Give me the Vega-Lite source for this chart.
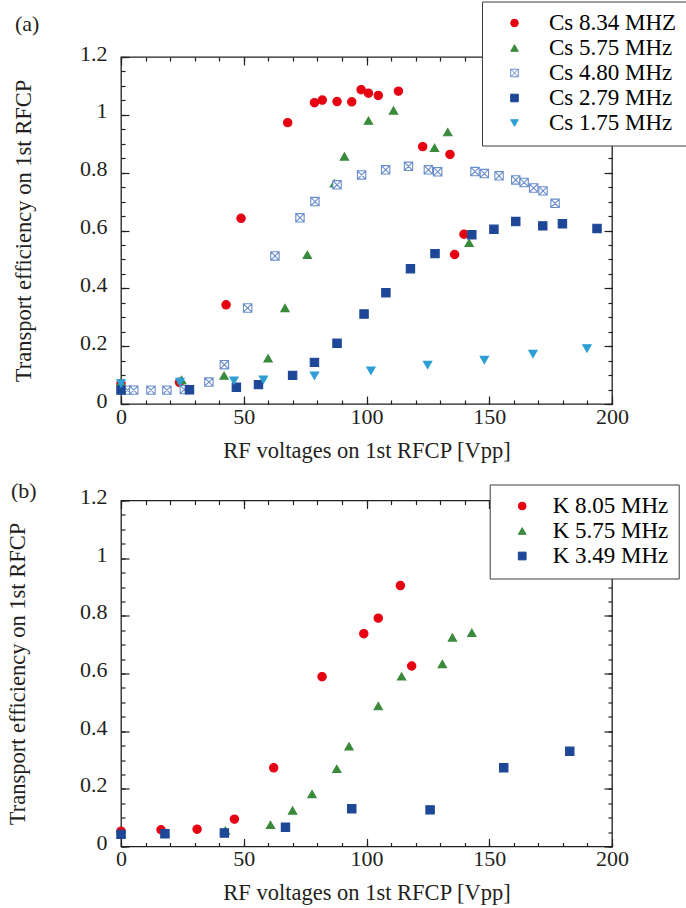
{
  "$schema": "https://vega.github.io/schema/vega-lite/v6.json",
  "background": "white",
  "padding": {"left": 5, "top": 0, "right": 4, "bottom": 4},
  "spacing": 15.5,
  "align": "none",
  "config": {
    "font": "Liberation Serif",
    "view": {"stroke": "#231f20", "strokeWidth": 1.3},
    "axis": {"grid": false, "domain": false, "labelFont": "Liberation Serif", "labelFontSize": 22, "labelColor": "#231f20", "titleFont": "Liberation Serif", "titleFontSize": 22.5, "titleFontWeight": "normal", "titleColor": "#231f20", "tickColor": "#231f20", "tickWidth": 1.2, "labelFlush": false, "labelOverlap": false},
    "legend": {"labelFont": "Liberation Serif", "labelFontSize": 23, "padding": 10, "fillColor": "white", "strokeColor": "#3c3c3c", "symbolOffset": 11, "labelOffset": 23, "rowPadding": 1, "symbolStrokeWidth": 1, "labelLimit": 400}
  },
  "resolve": {"scale": {"x": "independent", "y": "independent", "shape": "independent", "fill": "independent", "stroke": "independent"}, "legend": {"shape": "independent", "fill": "independent", "stroke": "independent"}},
  "vconcat": [
    {
      "width": 491,
      "height": 347,
      "title": {"text": "(a)", "anchor": "start", "frame": "group", "dx": -106, "offset": -51.5, "baseline": "alphabetic", "fontSize": 22, "font": "Liberation Serif", "fontWeight": "normal", "color": "#231f20"},
      "data": {"values": [
        {"s": "Cs 8.34 MHZ", "v": 0, "e": 0.071},
        {"s": "Cs 8.34 MHZ", "v": 23.8, "e": 0.075},
        {"s": "Cs 8.34 MHZ", "v": 42.8, "e": 0.343},
        {"s": "Cs 8.34 MHZ", "v": 48.9, "e": 0.642},
        {"s": "Cs 8.34 MHZ", "v": 67.9, "e": 0.973},
        {"s": "Cs 8.34 MHZ", "v": 78.8, "e": 1.042},
        {"s": "Cs 8.34 MHZ", "v": 82.0, "e": 1.051},
        {"s": "Cs 8.34 MHZ", "v": 88.0, "e": 1.046},
        {"s": "Cs 8.34 MHZ", "v": 94.0, "e": 1.045},
        {"s": "Cs 8.34 MHZ", "v": 97.8, "e": 1.087},
        {"s": "Cs 8.34 MHZ", "v": 100.8, "e": 1.075},
        {"s": "Cs 8.34 MHZ", "v": 104.8, "e": 1.067},
        {"s": "Cs 8.34 MHZ", "v": 113.0, "e": 1.082},
        {"s": "Cs 8.34 MHZ", "v": 122.9, "e": 0.890},
        {"s": "Cs 8.34 MHZ", "v": 134.0, "e": 0.863},
        {"s": "Cs 8.34 MHZ", "v": 135.9, "e": 0.517},
        {"s": "Cs 8.34 MHZ", "v": 139.7, "e": 0.587},
        {"s": "Cs 5.75 MHz", "v": 0, "e": 0.075},
        {"s": "Cs 5.75 MHz", "v": 24.7, "e": 0.083},
        {"s": "Cs 5.75 MHz", "v": 42.0, "e": 0.098},
        {"s": "Cs 5.75 MHz", "v": 59.9, "e": 0.158},
        {"s": "Cs 5.75 MHz", "v": 66.8, "e": 0.332},
        {"s": "Cs 5.75 MHz", "v": 75.9, "e": 0.516},
        {"s": "Cs 5.75 MHz", "v": 86.9, "e": 0.763},
        {"s": "Cs 5.75 MHz", "v": 91.0, "e": 0.856},
        {"s": "Cs 5.75 MHz", "v": 100.8, "e": 0.980},
        {"s": "Cs 5.75 MHz", "v": 111.0, "e": 1.015},
        {"s": "Cs 5.75 MHz", "v": 127.7, "e": 0.886},
        {"s": "Cs 5.75 MHz", "v": 133.1, "e": 0.940},
        {"s": "Cs 5.75 MHz", "v": 141.8, "e": 0.557},
        {"s": "Cs 4.80 MHz", "v": 2.7, "e": 0.048},
        {"s": "Cs 4.80 MHz", "v": 5.2, "e": 0.048},
        {"s": "Cs 4.80 MHz", "v": 12.2, "e": 0.048},
        {"s": "Cs 4.80 MHz", "v": 18.7, "e": 0.048},
        {"s": "Cs 4.80 MHz", "v": 25.8, "e": 0.050},
        {"s": "Cs 4.80 MHz", "v": 35.8, "e": 0.076},
        {"s": "Cs 4.80 MHz", "v": 42.1, "e": 0.136},
        {"s": "Cs 4.80 MHz", "v": 51.6, "e": 0.332},
        {"s": "Cs 4.80 MHz", "v": 62.7, "e": 0.512},
        {"s": "Cs 4.80 MHz", "v": 72.9, "e": 0.644},
        {"s": "Cs 4.80 MHz", "v": 79.0, "e": 0.700},
        {"s": "Cs 4.80 MHz", "v": 88.0, "e": 0.758},
        {"s": "Cs 4.80 MHz", "v": 98.0, "e": 0.792},
        {"s": "Cs 4.80 MHz", "v": 107.8, "e": 0.810},
        {"s": "Cs 4.80 MHz", "v": 117.1, "e": 0.822},
        {"s": "Cs 4.80 MHz", "v": 125.2, "e": 0.810},
        {"s": "Cs 4.80 MHz", "v": 129.0, "e": 0.803},
        {"s": "Cs 4.80 MHz", "v": 144.2, "e": 0.804},
        {"s": "Cs 4.80 MHz", "v": 148.0, "e": 0.797},
        {"s": "Cs 4.80 MHz", "v": 154.0, "e": 0.789},
        {"s": "Cs 4.80 MHz", "v": 160.8, "e": 0.775},
        {"s": "Cs 4.80 MHz", "v": 164.2, "e": 0.766},
        {"s": "Cs 4.80 MHz", "v": 168.1, "e": 0.747},
        {"s": "Cs 4.80 MHz", "v": 171.9, "e": 0.737},
        {"s": "Cs 4.80 MHz", "v": 176.8, "e": 0.694},
        {"s": "Cs 2.79 MHz", "v": 0, "e": 0.048},
        {"s": "Cs 2.79 MHz", "v": 27.9, "e": 0.049},
        {"s": "Cs 2.79 MHz", "v": 47.0, "e": 0.058},
        {"s": "Cs 2.79 MHz", "v": 56.0, "e": 0.067},
        {"s": "Cs 2.79 MHz", "v": 69.9, "e": 0.099},
        {"s": "Cs 2.79 MHz", "v": 78.8, "e": 0.144},
        {"s": "Cs 2.79 MHz", "v": 88.0, "e": 0.210},
        {"s": "Cs 2.79 MHz", "v": 99.0, "e": 0.311},
        {"s": "Cs 2.79 MHz", "v": 107.9, "e": 0.385},
        {"s": "Cs 2.79 MHz", "v": 117.9, "e": 0.468},
        {"s": "Cs 2.79 MHz", "v": 127.9, "e": 0.520},
        {"s": "Cs 2.79 MHz", "v": 142.9, "e": 0.585},
        {"s": "Cs 2.79 MHz", "v": 151.9, "e": 0.604},
        {"s": "Cs 2.79 MHz", "v": 160.8, "e": 0.631},
        {"s": "Cs 2.79 MHz", "v": 171.8, "e": 0.616},
        {"s": "Cs 2.79 MHz", "v": 179.8, "e": 0.623},
        {"s": "Cs 2.79 MHz", "v": 193.9, "e": 0.607},
        {"s": "Cs 1.75 MHz", "v": 0, "e": 0.071},
        {"s": "Cs 1.75 MHz", "v": 24.0, "e": 0.076},
        {"s": "Cs 1.75 MHz", "v": 46.0, "e": 0.081},
        {"s": "Cs 1.75 MHz", "v": 58.0, "e": 0.084},
        {"s": "Cs 1.75 MHz", "v": 78.8, "e": 0.098},
        {"s": "Cs 1.75 MHz", "v": 101.8, "e": 0.115},
        {"s": "Cs 1.75 MHz", "v": 124.9, "e": 0.135},
        {"s": "Cs 1.75 MHz", "v": 148.0, "e": 0.152},
        {"s": "Cs 1.75 MHz", "v": 167.8, "e": 0.173},
        {"s": "Cs 1.75 MHz", "v": 189.8, "e": 0.192}
      ]},
      "layer": [
        {
          "mark": {"type": "point", "filled": true, "opacity": 1, "size": 70, "strokeWidth": 1.1},
          "encoding": {
            "x": {"field": "v", "type": "quantitative", "scale": {"domain": [0, 200], "nice": false}, "axis": {"orient": "bottom", "values": [0, 50, 100, 150, 200], "ticks": false, "labelPadding": 2, "title": "RF voltages on 1st RFCP [Vpp]", "titlePadding": 12}},
            "y": {"field": "e", "type": "quantitative", "scale": {"domain": [0, 1.2], "nice": false, "zero": false}, "axis": {"orient": "left", "values": [0, 0.2, 0.4, 0.6, 0.8, 1, 1.2], "format": "~g", "ticks": false, "labelPadding": 14, "labelOffset": -4, "labelBaseline": "middle", "title": "Transport efficiency on 1st RFCP", "titlePadding": 44}},
            "shape": {"field": "s", "type": "nominal", "scale": {"domain": ["Cs 8.34 MHZ", "Cs 5.75 MHz", "Cs 4.80 MHz", "Cs 2.79 MHz", "Cs 1.75 MHz"], "range": ["circle", "triangle-up", "M-1,-1L1,-1L1,1L-1,1Z M-1,-1L1,1 M1,-1L-1,1", "square", "triangle-down"]},
              "legend": {"title": null, "orient": "none", "legendX": 361, "legendY": -55.5, "symbolSize": 58, "rowPadding": 1, "encode": {"legend": {"update": {"strokeWidth": {"value": 1.5}}}, "labels": {"update": {"fill": {"signal": "datum.value==='Cs 8.34 MHZ'?'#e8101e':datum.value==='Cs 5.75 MHz'?'#3d8b3d':datum.value==='Cs 4.80 MHz'?'#6b8dcb':datum.value==='Cs 2.79 MHz'?'#1f4a93':'#35a3d3'"}}}}}},
            "fill": {"field": "s", "type": "nominal", "scale": {"domain": ["Cs 8.34 MHZ", "Cs 5.75 MHz", "Cs 4.80 MHz", "Cs 2.79 MHz", "Cs 1.75 MHz"], "range": ["#e60012", "#3a8a3c", "#ffffff", "#1e4797", "#2e9fd4"]},
              "legend": {"title": null, "orient": "none", "legendX": 361, "legendY": -55.5, "symbolSize": 58, "rowPadding": 1, "encode": {"legend": {"update": {"strokeWidth": {"value": 1.5}}}, "labels": {"update": {"fill": {"signal": "datum.value==='Cs 8.34 MHZ'?'#e8101e':datum.value==='Cs 5.75 MHz'?'#3d8b3d':datum.value==='Cs 4.80 MHz'?'#6b8dcb':datum.value==='Cs 2.79 MHz'?'#1f4a93':'#35a3d3'"}}}}}},
            "stroke": {"field": "s", "type": "nominal", "scale": {"domain": ["Cs 8.34 MHZ", "Cs 5.75 MHz", "Cs 4.80 MHz", "Cs 2.79 MHz", "Cs 1.75 MHz"], "range": ["#e60012", "#3a8a3c", "#6a8dcc", "#1e4797", "#2e9fd4"]},
              "legend": {"title": null, "orient": "none", "legendX": 361, "legendY": -55.5, "symbolSize": 58, "rowPadding": 1, "encode": {"legend": {"update": {"strokeWidth": {"value": 1.5}}}, "labels": {"update": {"fill": {"signal": "datum.value==='Cs 8.34 MHZ'?'#e8101e':datum.value==='Cs 5.75 MHz'?'#3d8b3d':datum.value==='Cs 4.80 MHz'?'#6b8dcb':datum.value==='Cs 2.79 MHz'?'#1f4a93':'#35a3d3'"}}}}}}
          }
        },
        {
          "mark": {"type": "point", "opacity": 0},
          "encoding": {
            "x": {"field": "v", "type": "quantitative", "axis": {"orient": "bottom", "values": [0, 10, 20, 30, 40, 50, 60, 70, 80, 90, 100, 110, 120, 130, 140, 150, 160, 170, 180, 190, 200], "tickSize": -4, "labels": false, "title": null}},
            "y": {"field": "e", "type": "quantitative", "axis": {"orient": "left", "values": [0, 0.05, 0.1, 0.15, 0.2, 0.25, 0.3, 0.35, 0.4, 0.45, 0.5, 0.55, 0.6, 0.65, 0.7, 0.75, 0.8, 0.85, 0.9, 0.95, 1, 1.05, 1.1, 1.15, 1.2], "tickSize": -4, "labels": false, "title": null}}
          }
        },
        {
          "mark": {"type": "point", "opacity": 0},
          "encoding": {
            "x": {"field": "v", "type": "quantitative", "axis": {"orient": "bottom", "values": [0, 50, 100, 150, 200], "tickSize": -8, "labels": false, "title": null}},
            "y": {"field": "e", "type": "quantitative", "axis": {"orient": "left", "values": [0, 0.2, 0.4, 0.6, 0.8, 1, 1.2], "tickSize": -8, "labels": false, "title": null}}
          }
        },
        {
          "mark": {"type": "point", "opacity": 0},
          "encoding": {
            "x": {"field": "v", "type": "quantitative", "axis": {"orient": "top", "values": [0, 10, 20, 30, 40, 50, 60, 70, 80, 90, 100, 110, 120, 130, 140, 150, 160, 170, 180, 190, 200], "tickSize": -4, "labels": false, "title": null}},
            "y": {"field": "e", "type": "quantitative", "axis": {"orient": "right", "values": [0, 0.05, 0.1, 0.15, 0.2, 0.25, 0.3, 0.35, 0.4, 0.45, 0.5, 0.55, 0.6, 0.65, 0.7, 0.75, 0.8, 0.85, 0.9, 0.95, 1, 1.05, 1.1, 1.15, 1.2], "tickSize": -4, "labels": false, "title": null}}
          }
        },
        {
          "mark": {"type": "point", "opacity": 0},
          "encoding": {
            "x": {"field": "v", "type": "quantitative", "axis": {"orient": "top", "values": [0, 50, 100, 150, 200], "tickSize": -8, "labels": false, "title": null}},
            "y": {"field": "e", "type": "quantitative", "axis": {"orient": "right", "values": [0, 0.2, 0.4, 0.6, 0.8, 1, 1.2], "tickSize": -8, "labels": false, "title": null}}
          }
        }
      ],
      "resolve": {"axis": {"x": "independent", "y": "independent"}}
    },
    {
      "width": 491,
      "height": 346,
      "title": {"text": "(b)", "anchor": "start", "frame": "group", "dx": -110, "offset": -35.5, "baseline": "alphabetic", "fontSize": 22, "font": "Liberation Serif", "fontWeight": "normal", "color": "#231f20"},
      "data": {"values": [
        {"s": "K 8.05 MHz", "v": 0, "e": 0.053},
        {"s": "K 8.05 MHz", "v": 16.3, "e": 0.058},
        {"s": "K 8.05 MHz", "v": 31.0, "e": 0.060},
        {"s": "K 8.05 MHz", "v": 46.2, "e": 0.095},
        {"s": "K 8.05 MHz", "v": 62.2, "e": 0.273},
        {"s": "K 8.05 MHz", "v": 81.9, "e": 0.589},
        {"s": "K 8.05 MHz", "v": 98.9, "e": 0.738},
        {"s": "K 8.05 MHz", "v": 104.8, "e": 0.792},
        {"s": "K 8.05 MHz", "v": 113.8, "e": 0.905},
        {"s": "K 8.05 MHz", "v": 118.4, "e": 0.626},
        {"s": "K 5.75 MHz", "v": 42.5, "e": 0.055},
        {"s": "K 5.75 MHz", "v": 60.9, "e": 0.075},
        {"s": "K 5.75 MHz", "v": 69.9, "e": 0.125},
        {"s": "K 5.75 MHz", "v": 77.8, "e": 0.182},
        {"s": "K 5.75 MHz", "v": 87.9, "e": 0.269},
        {"s": "K 5.75 MHz", "v": 92.9, "e": 0.347},
        {"s": "K 5.75 MHz", "v": 104.8, "e": 0.487},
        {"s": "K 5.75 MHz", "v": 114.3, "e": 0.590},
        {"s": "K 5.75 MHz", "v": 130.9, "e": 0.633},
        {"s": "K 5.75 MHz", "v": 135.0, "e": 0.725},
        {"s": "K 5.75 MHz", "v": 142.9, "e": 0.741},
        {"s": "K 3.49 MHz", "v": 0, "e": 0.042},
        {"s": "K 3.49 MHz", "v": 17.9, "e": 0.044},
        {"s": "K 3.49 MHz", "v": 42.1, "e": 0.047},
        {"s": "K 3.49 MHz", "v": 67.0, "e": 0.067},
        {"s": "K 3.49 MHz", "v": 94.0, "e": 0.131},
        {"s": "K 3.49 MHz", "v": 125.9, "e": 0.127},
        {"s": "K 3.49 MHz", "v": 155.9, "e": 0.273},
        {"s": "K 3.49 MHz", "v": 182.8, "e": 0.330}
      ]},
      "layer": [
        {
          "mark": {"type": "point", "filled": true, "opacity": 1, "size": 70, "strokeWidth": 1.1},
          "encoding": {
            "x": {"field": "v", "type": "quantitative", "scale": {"domain": [0, 200], "nice": false}, "axis": {"orient": "bottom", "values": [0, 50, 100, 150, 200], "ticks": false, "labelPadding": 2, "title": "RF voltages on 1st RFCP [Vpp]", "titlePadding": 12}},
            "y": {"field": "e", "type": "quantitative", "scale": {"domain": [0, 1.2], "nice": false, "zero": false}, "axis": {"orient": "left", "values": [0, 0.2, 0.4, 0.6, 0.8, 1, 1.2], "format": "~g", "ticks": false, "labelPadding": 14, "labelOffset": -4, "labelBaseline": "middle", "title": "Transport efficiency on 1st RFCP", "titlePadding": 50}},
            "shape": {"field": "s", "type": "nominal", "scale": {"domain": ["K 8.05 MHz", "K 5.75 MHz", "K 3.49 MHz"], "range": ["circle", "triangle-up", "square"]},
              "legend": {"title": null, "orient": "none", "legendX": 368.7, "legendY": -16, "symbolSize": 60, "rowPadding": 1, "labelOffset": 19, "encode": {"legend": {"update": {"strokeWidth": {"value": 1.5}}}, "labels": {"update": {"fill": {"signal": "datum.value==='K 8.05 MHz'?'#e8101e':datum.value==='K 5.75 MHz'?'#3d8b3d':'#1f4a93'"}}}}}},
            "fill": {"field": "s", "type": "nominal", "scale": {"domain": ["K 8.05 MHz", "K 5.75 MHz", "K 3.49 MHz"], "range": ["#e60012", "#3a8a3c", "#1e4797"]},
              "legend": {"title": null, "orient": "none", "legendX": 368.7, "legendY": -16, "symbolSize": 60, "rowPadding": 1, "labelOffset": 19, "encode": {"legend": {"update": {"strokeWidth": {"value": 1.5}}}, "labels": {"update": {"fill": {"signal": "datum.value==='K 8.05 MHz'?'#e8101e':datum.value==='K 5.75 MHz'?'#3d8b3d':'#1f4a93'"}}}}}},
            "stroke": {"field": "s", "type": "nominal", "scale": {"domain": ["K 8.05 MHz", "K 5.75 MHz", "K 3.49 MHz"], "range": ["#e60012", "#3a8a3c", "#1e4797"]},
              "legend": {"title": null, "orient": "none", "legendX": 368.7, "legendY": -16, "symbolSize": 60, "rowPadding": 1, "labelOffset": 19, "encode": {"legend": {"update": {"strokeWidth": {"value": 1.5}}}, "labels": {"update": {"fill": {"signal": "datum.value==='K 8.05 MHz'?'#e8101e':datum.value==='K 5.75 MHz'?'#3d8b3d':'#1f4a93'"}}}}}}
          }
        },
        {
          "mark": {"type": "point", "opacity": 0},
          "encoding": {
            "x": {"field": "v", "type": "quantitative", "axis": {"orient": "bottom", "values": [0, 10, 20, 30, 40, 50, 60, 70, 80, 90, 100, 110, 120, 130, 140, 150, 160, 170, 180, 190, 200], "tickSize": -4, "labels": false, "title": null}},
            "y": {"field": "e", "type": "quantitative", "axis": {"orient": "left", "values": [0, 0.05, 0.1, 0.15, 0.2, 0.25, 0.3, 0.35, 0.4, 0.45, 0.5, 0.55, 0.6, 0.65, 0.7, 0.75, 0.8, 0.85, 0.9, 0.95, 1, 1.05, 1.1, 1.15, 1.2], "tickSize": -4, "labels": false, "title": null}}
          }
        },
        {
          "mark": {"type": "point", "opacity": 0},
          "encoding": {
            "x": {"field": "v", "type": "quantitative", "axis": {"orient": "bottom", "values": [0, 50, 100, 150, 200], "tickSize": -8, "labels": false, "title": null}},
            "y": {"field": "e", "type": "quantitative", "axis": {"orient": "left", "values": [0, 0.2, 0.4, 0.6, 0.8, 1, 1.2], "tickSize": -8, "labels": false, "title": null}}
          }
        },
        {
          "mark": {"type": "point", "opacity": 0},
          "encoding": {
            "x": {"field": "v", "type": "quantitative", "axis": {"orient": "top", "values": [0, 10, 20, 30, 40, 50, 60, 70, 80, 90, 100, 110, 120, 130, 140, 150, 160, 170, 180, 190, 200], "tickSize": -4, "labels": false, "title": null}},
            "y": {"field": "e", "type": "quantitative", "axis": {"orient": "right", "values": [0, 0.05, 0.1, 0.15, 0.2, 0.25, 0.3, 0.35, 0.4, 0.45, 0.5, 0.55, 0.6, 0.65, 0.7, 0.75, 0.8, 0.85, 0.9, 0.95, 1, 1.05, 1.1, 1.15, 1.2], "tickSize": -4, "labels": false, "title": null}}
          }
        },
        {
          "mark": {"type": "point", "opacity": 0},
          "encoding": {
            "x": {"field": "v", "type": "quantitative", "axis": {"orient": "top", "values": [0, 50, 100, 150, 200], "tickSize": -8, "labels": false, "title": null}},
            "y": {"field": "e", "type": "quantitative", "axis": {"orient": "right", "values": [0, 0.2, 0.4, 0.6, 0.8, 1, 1.2], "tickSize": -8, "labels": false, "title": null}}
          }
        }
      ],
      "resolve": {"axis": {"x": "independent", "y": "independent"}}
    }
  ]
}
